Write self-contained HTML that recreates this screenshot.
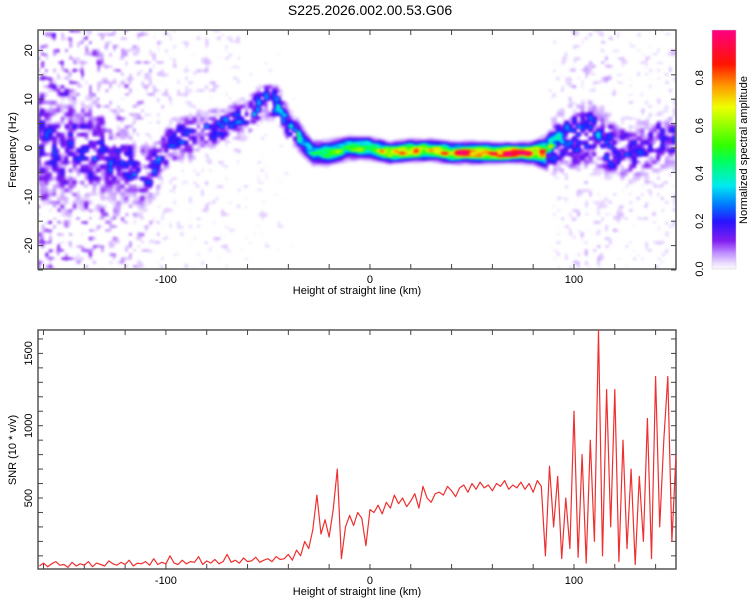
<!DOCTYPE html>
<html><head><meta charset="utf-8"><style>
body{margin:0;background:#fff;width:750px;height:600px;overflow:hidden;font-family:"Liberation Sans",sans-serif}
#wrap{position:relative;width:750px;height:600px}
canvas{position:absolute}
svg{position:absolute;left:0;top:0}
</style></head><body>
<div id="wrap">
<canvas id="heat" width="638" height="239" style="left:38px;top:30px"></canvas>
<canvas id="cbar" width="24" height="239" style="left:712px;top:30px"></canvas>
<svg id="svg" width="750" height="600"></svg>
</div>
<script>
// ---- data ----
const ridgeH = [-162,-150,-140,-130,-120,-112,-105,-98,-90,-80,-70,-60,-52,-46,-40,-34,-28,-20,-10,0,10,20,30,40,50,60,70,80,86,92,100,108,115,122,130,140,150];
const ridgeF = [1,0,-1,-1.5,-3,-5.5,-4,1,2,3.5,5,6,10,9,5,2,-1,-1,0,0,-1,-0.5,-0.5,-1,-1,-1,-1,-1,-1,1,2,3,1,-1,-1,1,2];
const ridgeA = [0.2,0.2,0.21,0.22,0.23,0.25,0.25,0.25,0.24,0.25,0.27,0.28,0.3,0.32,0.33,0.34,0.36,0.45,0.5,0.5,0.65,0.7,0.65,0.7,0.75,0.85,0.85,0.8,0.65,0.3,0.28,0.3,0.28,0.25,0.24,0.25,0.24];
const ridgeW = [7,7,6,5,4,3.5,3,2.5,2.5,2,2,2,2,2,1.8,1.5,1.2,1.2,1.1,1.1,1,1,1,1,1,0.9,0.9,1,1.5,3,3.5,3.5,3.5,3,3,3,3];
const scatterA = [0.12,0.11,0.1,0.08,0.07,0.05,0.04,0.03,0.03,0.03,0.03,0.02,0.02,0.02,0.02,0.01,0.01,0.01,0.0,0.0,0.0,0.0,0.0,0.0,0.0,0.0,0.0,0.0,0.01,0.03,0.04,0.04,0.04,0.03,0.03,0.03,0.03];
const snrStart = -162, snrStep = 2;
const snrValues = [
30,50,25,45,60,35,40,20,55,30,
45,35,60,25,50,40,30,65,45,35,
55,40,70,30,50,45,60,35,80,40,
55,45,100,50,40,70,45,60,55,95,
40,65,50,75,45,60,110,55,70,50,
85,60,65,90,55,70,80,60,95,75,
80,110,70,140,100,200,150,280,520,250,
350,230,420,700,80,300,380,310,400,360,
170,420,400,450,390,470,430,520,460,
500,440,480,530,430,580,500,470,530,540,
520,580,
550,510,570,590,540,600,560,610,570,590,
550,600,580,620,560,590,570,610,560,600,
540,620,580,
100,720,300,650,80,500,150,1100,90,800,
50,900,200,1700,100,1250,300,1250,60,900,
150,700,40,650,200,1050,80,1340,300,900,
1340,200,800];
const xTicks=[-100,0,100];
const fTicks=[-20,-10,0,10,20];
const snrTicks=[500,1000,1500];
const cbTicks=[0.0,0.2,0.4,0.6,0.8];
// ---- scales ----
const X0=38,X1=676,XMIN=-162.7,XMAX=150;
const xs=v=>X0+(v-XMIN)/(XMAX-XMIN)*(X1-X0);
const fy=f=>148-f*4.88;
const sy=v=>570.3-v*0.1446;
const cy=v=>269-v*239;
// ---- colormap ----
const stops=[[0,[255,255,255]],[0.025,[236,222,255]],[0.07,[190,140,255]],[0.12,[130,30,240]],[0.2,[40,20,255]],[0.27,[0,120,255]],[0.35,[0,235,240]],[0.45,[0,255,100]],[0.52,[50,255,0]],[0.68,[240,255,0]],[0.77,[255,150,0]],[0.86,[255,20,0]],[1,[255,0,130]]];
function cmap(v){v=Math.max(0,Math.min(1,v));for(let i=1;i<stops.length;i++){if(v<=stops[i][0]){const a=stops[i-1],b=stops[i],t=(v-a[0])/(b[0]-a[0]);return a[1].map((c,k)=>Math.round(c+(b[1][k]-c)*t));}}return stops[stops.length-1][1];}
function interp(arr,h){if(h<=ridgeH[0])return arr[0];for(let i=1;i<ridgeH.length;i++){if(h<=ridgeH[i]){const t=(h-ridgeH[i-1])/(ridgeH[i]-ridgeH[i-1]);return arr[i-1]+(arr[i]-arr[i-1])*t;}}return arr[arr.length-1];}
// texture noise (decorative)
function hash(i,j){let n=Math.imul(i,374761393)+Math.imul(j,668265263)|0;n=Math.imul(n^(n>>>13),1274126177);n=n^(n>>>16);return ((n>>>0)%10007)/10007;}
function vnoise(x,y){const i=Math.floor(x),j=Math.floor(y),fx=x-i,fy2=y-j;const sx=fx*fx*(3-2*fx),sy2=fy2*fy2*(3-2*fy2);const a=hash(i,j),b=hash(i+1,j),c=hash(i,j+1),d=hash(i+1,j+1);return (a+(b-a)*sx)*(1-sy2)+(c+(d-c)*sx)*sy2;}
// ---- heatmap ----
(function(){const cv=document.getElementById('heat'),ctx=cv.getContext('2d');const W=cv.width,H=cv.height;
const off=document.createElement('canvas');off.width=W;off.height=H;const octx=off.getContext('2d');
const img=octx.createImageData(W,H);
for(let px=0;px<W;px++){const h=XMIN+(px+0.5)/W*(XMAX-XMIN);const fc=interp(ridgeF,h),A=interp(ridgeA,h),w=interp(ridgeW,h),sA=interp(scatterA,h);
for(let py=0;py<H;py++){const f=(148-(py+30+0.5))/4.88;const d=(f-fc)/w;const g=Math.exp(-d*d/2);
const n=vnoise(px/4,py/4),n2=vnoise(px/8+50,py/8+50);
let tex=Math.max(0,(n*0.7+n2*0.5)-0.3)*1.5;
if(w<1.6)tex=0.55+0.6*vnoise(px/7+20,py/3);
let v=A*g*tex*1.3;
const s=Math.max(0,n-0.5)*sA*2.8*(0.4+n2);v=Math.max(v,s);
if(v<0.02)v=0;
const c=cmap(v);const k=(py*W+px)*4;img.data[k]=c[0];img.data[k+1]=c[1];img.data[k+2]=c[2];img.data[k+3]=255;}}
octx.putImageData(img,0,0);
ctx.fillStyle='#fff';ctx.fillRect(0,0,W,H);
ctx.filter='blur(1.3px)';ctx.drawImage(off,0,0);ctx.filter='none';
const cb=document.getElementById('cbar').getContext('2d');for(let py=0;py<239;py++){const c=cmap((239-py)/239);cb.fillStyle=`rgb(${c})`;cb.fillRect(0,py,24,1);}})();
// ---- svg ----
const svg=document.getElementById('svg');const NS='http://www.w3.org/2000/svg';
function el(t,a,p){const e=document.createElementNS(NS,t);for(const k in a)e.setAttribute(k,a[k]);(p||svg).appendChild(e);return e;}
function txt(s,x,y,rot,size,name){const e=el('text',{x:x,y:y,'font-size':size,'text-anchor':'middle','font-family':'Liberation Sans, sans-serif',fill:'#000'});if(rot)e.setAttribute('transform',`rotate(-90 ${x} ${y})`);e.textContent=s;

return e;}
const title=txt('S225.2026.002.00.53.G06',370,15,false,14,'chart-title');
function frame(y0,y1,name){const r=el('rect',{x:X0,y:y0,width:X1-X0,height:y1-y0,fill:'none',stroke:'#555','stroke-width':1.5});


for(let v=-160;v<=150;v+=20){const x=xs(v);el('line',{x1:x,x2:x,y1:y0,y2:y0+5,stroke:'#444'});el('line',{x1:x,x2:x,y1:y1,y2:y1-5,stroke:'#444'});}}
frame(30,269,'top-plot-frame');frame(330,569,'bottom-plot-frame');
for(let f=-25;f<=24;f+=5){const y=fy(f);el('line',{x1:X0,x2:X0+5,y1:y,y2:y,stroke:'#444'});el('line',{x1:X1,x2:X1-5,y1:y,y2:y,stroke:'#444'});}
for(let v=100;v<=1600;v+=100){const y=sy(v);el('line',{x1:X0,x2:X0+5,y1:y,y2:y,stroke:'#444'});el('line',{x1:X1,x2:X1-5,y1:y,y2:y,stroke:'#444'});}
xTicks.forEach(v=>{txt(String(v),xs(v),283,false,11,'x-tick-label-top');txt(String(v),xs(v),584,false,11,'x-tick-label-bottom');});
fTicks.forEach(v=>txt(String(v),32,fy(v),true,11,'freq-tick-label'));
snrTicks.forEach(v=>txt(String(v),32,sy(v),true,11,'snr-tick-label'));
txt('Height of straight line (km)',357,294,false,11,'x-axis-title-top');
txt('Height of straight line (km)',357,595,false,11,'x-axis-title-bottom');
txt('Frequency (Hz)',16,150,true,11,'y-axis-title-frequency');
txt('SNR (10 * v/v)',16,450,true,11,'y-axis-title-snr');
const cbr=el('rect',{x:712,y:30,width:24,height:239,fill:'none',stroke:'#ccc','stroke-width':0.5});
cbTicks.forEach(v=>{txt(v.toFixed(1),703,cy(v),true,11,'colorbar-tick-label');});
txt('Normalized spectral amplitude',747,150,true,11,'colorbar-title');
let pts=[];snrValues.forEach((v,i)=>{const h=snrStart+i*snrStep;pts.push(xs(h).toFixed(1)+','+sy(Math.min(v,1662)).toFixed(1));});
const pl=el('polyline',{points:pts.join(' '),fill:'none',stroke:'#ee3030','stroke-width':1.2,'stroke-linejoin':'round'});


</script>
</body></html>
